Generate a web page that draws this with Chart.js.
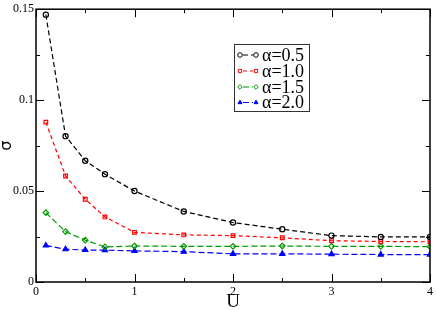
<!DOCTYPE html>
<html><head><meta charset="utf-8">
<script src="https://cdn.jsdelivr.net/npm/chart.js@4/dist/chart.umd.min.js"></script>
<style>html,body{margin:0;padding:0;background:#fff}#wrap{width:436px;height:310px}</style>
</head><body><div id="wrap"><canvas id="c" width="436" height="310"></canvas></div>
<script>
const U = [0.1, 0.3, 0.5, 0.7, 1.0, 1.5, 2.0, 2.5, 3.0, 3.5, 4.0];
const sigma05 = [0.147, 0.0802, 0.0667, 0.0593, 0.0500, 0.0388, 0.0327, 0.0290, 0.0255, 0.0248, 0.0248];
const sigma10 = [0.0879, 0.0583, 0.0455, 0.0358, 0.0273, 0.0259, 0.0255, 0.0243, 0.0227, 0.0223, 0.0221];
const sigma15 = [0.0381, 0.0277, 0.0230, 0.0193, 0.0198, 0.0196, 0.0196, 0.0198, 0.0196, 0.0196, 0.0194];
const sigma20 = [0.0201, 0.0180, 0.0176, 0.0175, 0.0171, 0.0167, 0.0155, 0.0155, 0.0153, 0.0151, 0.0151];
const labels = ['α=0.5', 'α=1.0', 'α=1.5', 'α=2.0'];
const xTitle = 'U';
const yTitle = 'σ';
const xTicks = [0, 1, 2, 3, 4];
const yTicks = [0, 0.05, 0.1, 0.15];

const serif = '"Liberation Serif", "DejaVu Serif", serif';
function pts(ys){ return U.map((u,i)=>({x:u,y:ys[i]})); }
function ds(label, ys, color, style, dash, fill, r){
  return {label, data: pts(ys), borderColor: color, backgroundColor: fill,
    pointBorderColor: color, pointBackgroundColor: fill, pointStyle: style,
    pointRadius: r, pointBorderWidth: 1.2, borderWidth: 1.2, borderDash: dash,
    showLine: true, tension: 0, fill: false};
}
const datasets = [
  ds(labels[0], sigma05, '#000000', 'circle', [5,3], 'rgba(0,0,0,0)', 2.6),
  ds(labels[1], sigma10, '#ff0000', 'rect', [4,3], 'rgba(0,0,0,0)', 2.6),
  ds(labels[2], sigma15, '#009a00', 'rectRot', [6,3], 'rgba(0,0,0,0)', 2.8),
  ds(labels[3], sigma20, '#0000ff', 'triangle', [6,3], '#0000ff', 3)
];

const tickPlugin = {
  id: 'inTicks',
  afterDraw(chart){
    const ctx = chart.ctx, a = chart.chartArea, xs = chart.scales.x, ys = chart.scales.y;
    ctx.save();
    ctx.strokeStyle = '#000'; ctx.lineWidth = 1;
    const major = 8, minor = 4;
    for (let v = 0; v <= 4.0001; v += 0.5) {
      const px = Math.round(xs.getPixelForValue(v)) + 0.5;
      const L = (Math.abs(v - Math.round(v)) < 1e-6) ? major : minor;
      ctx.beginPath();
      ctx.moveTo(px, a.bottom); ctx.lineTo(px, a.bottom - L);
      ctx.moveTo(px, a.top); ctx.lineTo(px, a.top + L);
      ctx.stroke();
    }
    for (let k = 0; k <= 6; k++) {
      const v = k * 0.025;
      const py = Math.round(ys.getPixelForValue(v)) + 0.5;
      const L = (k % 2 === 0) ? major : minor;
      ctx.beginPath();
      ctx.moveTo(a.left, py); ctx.lineTo(a.left + L, py);
      ctx.moveTo(a.right, py); ctx.lineTo(a.right - L, py);
      ctx.stroke();
    }
    ctx.lineWidth = 1.5;
    ctx.strokeRect(a.left, a.top, a.right - a.left, a.bottom - a.top);
    // axis titles
    ctx.fillStyle = '#000';
    ctx.font = '19px ' + serif; ctx.textAlign = 'center'; ctx.textBaseline = 'middle';
    ctx.fillText(xTitle, (a.left + a.right) / 2, 302);
    ctx.save();
    ctx.translate(6.5, (a.top + a.bottom) / 2);
    ctx.rotate(-Math.PI / 2);
    ctx.font = '16px "DejaVu Sans", sans-serif';
    ctx.fillText(yTitle, 0, 0);
    ctx.restore();
    // legend
    const bx = 234, by = 44, bw = 75, bh = 67;
    ctx.lineWidth = 1; ctx.strokeStyle = '#333';
    ctx.fillStyle = '#fff';
    ctx.fillRect(bx, by, bw, bh);
    ctx.strokeRect(bx + 0.5, by + 0.5, bw, bh);
    const rows = [55, 71, 87, 102.5];
    chart.data.datasets.forEach((d, i) => {
      const y = rows[i];
      ctx.save();
      ctx.strokeStyle = d.borderColor; ctx.lineWidth = 1.2; ctx.setLineDash(d.borderDash);
      ctx.beginPath(); ctx.moveTo(243, y); ctx.lineTo(253, y); ctx.stroke();
      ctx.restore();
      [240, 256].forEach(x => {
        ctx.save();
        ctx.strokeStyle = d.pointBorderColor; ctx.fillStyle = d.pointBackgroundColor; ctx.lineWidth = 1;
        Chart.helpers.drawPoint(ctx, {pointStyle: d.pointStyle, radius: 2.3, rotation: 0, borderWidth: 1}, x, y);
        ctx.restore();
      });
      ctx.fillStyle = '#000'; ctx.font = '18px ' + serif;
      ctx.textBaseline = 'middle'; ctx.textAlign = 'left';
      ctx.fillText(d.label, 262, y + 1);
    });
    ctx.restore();
  }
};

new Chart(document.getElementById('c'), {
  type: 'scatter',
  data: { datasets },
  options: {
    responsive: false, animation: false, devicePixelRatio: 1,
    layout: { padding: { top: 4, right: 4, left: 0, bottom: 0 } },
    plugins: { legend: { display: false }, tooltip: { enabled: false } },
    scales: {
      x: {
        type: 'linear', min: 0, max: 4,
        afterBuildTicks: s => { s.ticks = xTicks.map(v => ({value: v})); },
        afterFit: s => { s.height = 28; },
        grid: { display: false, drawTicks: false },
        border: { display: false },
        ticks: { color: '#000', padding: 3, font: { family: serif, size: 12 }, maxRotation: 0,
          callback: v => String(v) },
        title: { display: false }
      },
      y: {
        type: 'linear', min: 0, max: 0.15,
        afterBuildTicks: s => { s.ticks = yTicks.map(v => ({value: v})); },
        afterFit: s => { s.width = 36; },
        grid: { display: false, drawTicks: false },
        border: { display: false },
        ticks: { color: '#000', padding: 2, font: { family: serif, size: 12 },
          callback: v => String(+v.toFixed(2)) },
        title: { display: false }
      }
    }
  },
  plugins: [tickPlugin]
});
</script></body></html>
